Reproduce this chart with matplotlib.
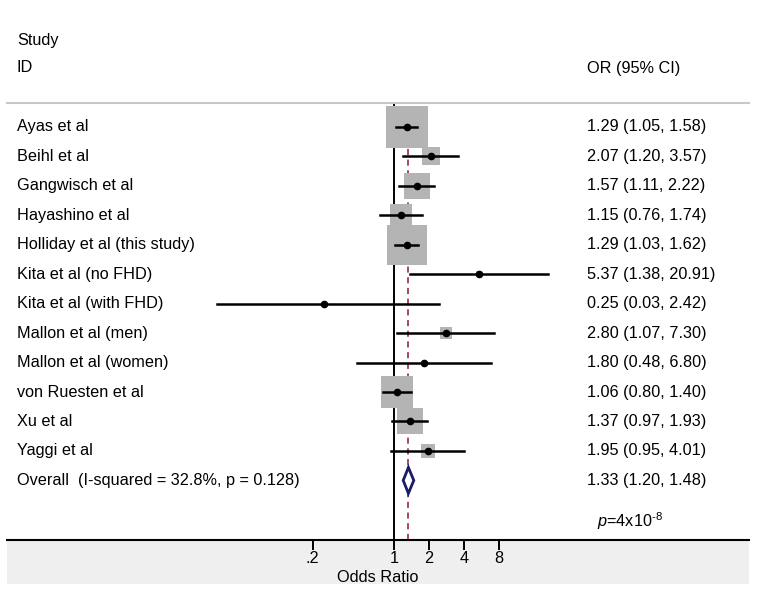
import numpy as np
import matplotlib
matplotlib.use('Agg')
import matplotlib.pyplot as plt
from matplotlib.patches import Rectangle, Polygon

plt.rcParams['font.family'] = ['Liberation Sans', 'DejaVu Sans']
plt.rcParams['mathtext.fontset'] = 'custom'
plt.rcParams['mathtext.rm'] = 'Liberation Sans'
plt.rcParams['mathtext.it'] = 'Liberation Sans:italic'

studies = ['Ayas et al', 'Beihl et al', 'Gangwisch et al', 'Hayashino et al',
           'Holliday et al (this study)', 'Kita et al (no FHD)', 'Kita et al (with FHD)',
           'Mallon et al (men)', 'Mallon et al (women)', 'von Ruesten et al',
           'Xu et al', 'Yaggi et al']
odds = [1.29, 2.07, 1.57, 1.15, 1.29, 5.37, 0.25, 2.80, 1.80, 1.06, 1.37, 1.95]
lower = [1.05, 1.20, 1.11, 0.76, 1.03, 1.38, 0.03, 1.07, 0.48, 0.80, 0.97, 0.95]
upper = [1.58, 3.57, 2.22, 1.74, 1.62, 20.91, 2.42, 7.30, 6.80, 1.40, 1.93, 4.01]
weights = [25.9, 4.5, 10.2, 7.4, 22.4, 0.5, 0.1, 1.7, 0.35, 14.3, 10.2, 2.4]

overall_label = 'Overall  (I-squared = 32.8%, p = 0.128)'
overall = [1.33, 1.20, 1.48]
tick_vals = [0.2, 1, 2, 4, 8]
tick_labels = ['.2', '1', '2', '4', '8']

W, H = 757, 592
fs = 11.7
fig = plt.figure(figsize=(W / 100, H / 100), dpi=100)

# plot region in pixels
left, right, top, bottom = 7, 749, 103, 540
ax = fig.add_axes([left / W, 1 - bottom / H, (right - left) / W, (bottom - top) / H])
ax.set_zorder(1)
ax.patch.set_alpha(0)

# grey band below axis
fig.patches.append(Rectangle((left / W, 1 - 584 / H), (right - left) / W, (584 - 541) / H,
                             transform=fig.transFigure, facecolor='#efefef',
                             edgecolor='none', zorder=-1))

ax.set_xscale('log')
ax.set_xlim(2 ** ((left - 394) / 35), 2 ** ((right - 394) / 35))
row_h = 29.45
ax.set_ylim((bottom - 127) / row_h, (top - 127) / row_h)

for s in ['left', 'right']:
    ax.spines[s].set_visible(False)
ax.spines['top'].set_color('#c8c8c8')
ax.spines['top'].set_linewidth(1.5)
ax.spines['bottom'].set_linewidth(1.5)
ax.set_yticks([])
ax.set_xticks(tick_vals)
ax.set_xticklabels(tick_labels, fontsize=fs)
ax.xaxis.set_minor_locator(matplotlib.ticker.NullLocator())
ax.tick_params(axis='x', which='major', direction='out', length=7, width=1.4,
               pad=1, color='black', bottom=True, top=False)
ax.set_xlabel('Odds Ratio', fontsize=fs, labelpad=2.5)

ax.axvline(1, color='black', lw=1.4, zorder=1)
ax.axvline(overall[0], color='#8b1a2e', lw=1.1, ls=(0, (4, 3)), zorder=1)

rows = np.arange(len(studies))
k = 43 / np.sqrt(max(weights)) * 0.72
xt = (17 - left) / (right - left)
xr = (587 - left) / (right - left)
for i in rows:
    ax.plot(odds[i], i, 's', ms=k * np.sqrt(weights[i]), color='#b4b4b4', mew=0, zorder=2)
    ax.plot([lower[i], upper[i]], [i, i], color='black', lw=1.8, zorder=3)
    ax.plot(odds[i], i, 'o', ms=4.5, color='black', zorder=4)

    ax.text(xt, i, studies[i], transform=ax.get_yaxis_transform(),
            va='center', ha='left', fontsize=fs)
    ax.text(xr, i, '%.2f (%.2f, %.2f)' % (odds[i], lower[i], upper[i]),
            transform=ax.get_yaxis_transform(), va='center', ha='left', fontsize=fs)

yo = len(studies)
dh = 0.44
diamond = Polygon([[overall[1], yo], [overall[0], yo - dh], [overall[2], yo], [overall[0], yo + dh]],
                  closed=True, facecolor='white', edgecolor='#1a1a6e', lw=2, zorder=4)
ax.add_patch(diamond)
ax.text(xt, yo, overall_label, transform=ax.get_yaxis_transform(),
        va='center', ha='left', fontsize=fs)
ax.text(xr, yo, '%.2f (%.2f, %.2f)' % tuple(overall),
        transform=ax.get_yaxis_transform(), va='center', ha='left', fontsize=fs)

ax.text((597 - left) / (right - left), (521 - 127) / row_h, r'$p$=4x10$^{\text{-8}}$',
        transform=ax.get_yaxis_transform(), va='center', ha='left', fontsize=fs)

fig.text(17 / W, 1 - 40 / H, 'Study', va='center', ha='left', fontsize=fs)
fig.text(17 / W, 1 - 68 / H, 'ID', va='center', ha='left', fontsize=fs)
fig.text(587 / W, 1 - 68 / H, 'OR (95% CI)', va='center', ha='left', fontsize=fs)

fig.savefig('out.png', dpi=100)
